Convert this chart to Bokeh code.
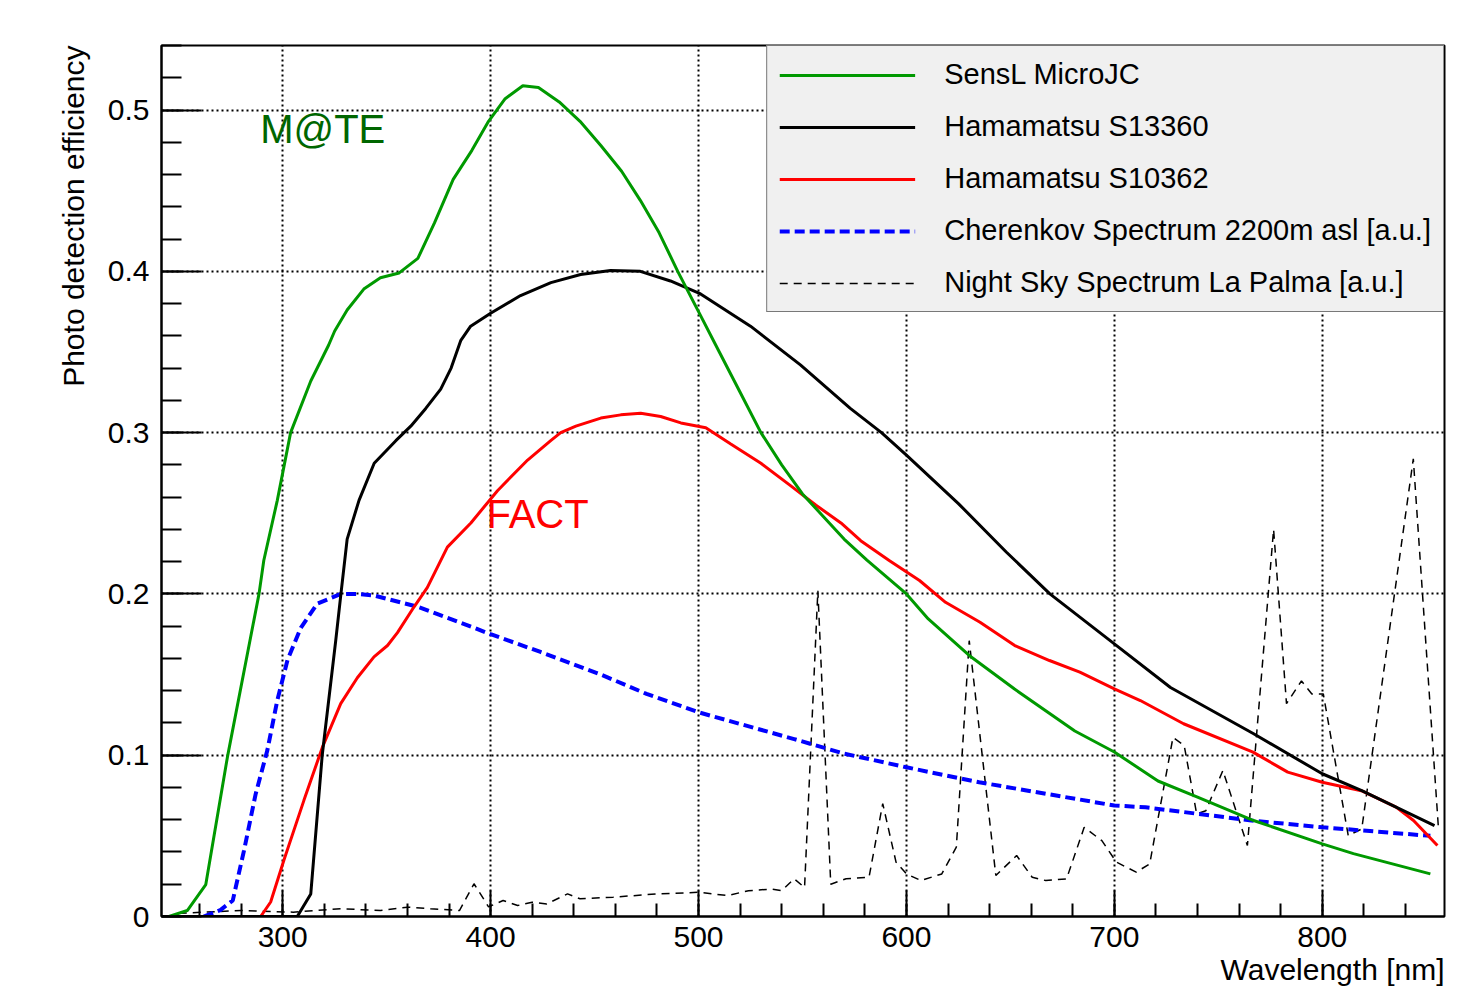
import numpy as np
from bokeh.plotting import figure
from bokeh.models import (Range1d, FixedTicker, CustomJSTickFormatter, Legend,
                          LegendItem, Label, Title)
from bokeh.embed import file_html
from bokeh.resources import INLINE

# ---------------- data ----------------
sensl_wl = [245.3, 254.1, 263, 273.4, 288.6, 290.9, 297.4, 303.8, 313.5, 322, 325, 331, 339,
            347, 356, 365, 373, 382, 391, 399, 407, 415.5, 423, 433, 443, 453, 463, 472, 481,
            490, 500, 510, 520, 530, 540, 550, 560, 570, 581, 600, 610.5, 631, 652, 681, 700,
            721, 740, 767, 800, 815, 852]
sensl_pde = [0.0, 0.0037, 0.0198, 0.0988, 0.200, 0.2207, 0.258, 0.300, 0.332, 0.354, 0.363,
             0.376, 0.389, 0.396, 0.399, 0.408, 0.430, 0.457, 0.475, 0.493, 0.507, 0.515,
             0.514, 0.505, 0.493, 0.478, 0.462, 0.444, 0.424, 0.400, 0.375, 0.350, 0.325,
             0.300, 0.280, 0.262, 0.248, 0.234, 0.221, 0.200, 0.1845, 0.161, 0.141, 0.115,
             0.102, 0.084, 0.074, 0.0595, 0.045, 0.039, 0.0264]

s13360_wl = [242, 307, 313.5, 319, 325.5, 328, 331, 336.7, 344, 354.4, 361.6, 368.8, 376, 381,
             385.6, 390.4, 400, 414.4, 429, 443.3, 457.7, 472, 486.5, 501, 525, 549, 573,
             588, 600, 625, 648, 669, 700, 727, 767, 800, 819, 854]
s13360_pde = [0.0, 0.0, 0.014, 0.100, 0.171, 0.200, 0.234, 0.258, 0.281, 0.295, 0.304, 0.315,
              0.327, 0.340, 0.357, 0.366, 0.374, 0.385, 0.393, 0.398, 0.4005, 0.400, 0.394,
              0.386, 0.366, 0.342, 0.315, 0.300, 0.286, 0.256, 0.226, 0.200, 0.169, 0.142,
              0.1133, 0.0885, 0.078, 0.0564]

s10362_wl = [289.4, 294.2, 300.6, 310.2, 319.1, 327.9, 335.9, 343.9, 350.4, 355.2, 363.2, 369.6,
             379.2, 390.5, 403.3, 417.8, 428.9, 433.7, 441, 453, 462.6, 472.2, 481.8, 491.5,
             503.5, 515.5, 530, 544.4, 556.5, 568.5, 578, 591.7, 606.3, 618.8, 635.4, 652.1,
             668.8, 683.4, 700, 712.5, 733.3, 766.7, 783.4, 800, 818.8, 835.5, 843.9, 855.4]
s10362_pde = [0.0, 0.009, 0.035, 0.072, 0.105, 0.132, 0.148, 0.161, 0.168, 0.176, 0.192, 0.204,
              0.229, 0.244, 0.264, 0.283, 0.295, 0.300, 0.304, 0.309, 0.311, 0.312, 0.310,
              0.306, 0.303, 0.293, 0.281, 0.267, 0.255, 0.244, 0.233, 0.2207, 0.2083, 0.1948,
              0.1824, 0.168, 0.1587, 0.1515, 0.1411, 0.1339, 0.1195, 0.1019, 0.0895, 0.0832,
              0.078, 0.0678, 0.0595, 0.044]

cherenkov_wl = [262, 270, 276, 281.4, 287, 292.6, 297.4, 302.3, 308.7, 316.7, 328, 336, 344,
                365, 392, 400, 424, 453, 475, 500, 546, 570, 600, 635, 700, 715, 766, 800, 852]
cherenkov_au = [0.0, 0.004, 0.010, 0.041, 0.076, 0.103, 0.134, 0.159, 0.179, 0.194, 0.200,
                0.200, 0.199, 0.192, 0.179, 0.175, 0.164, 0.150, 0.138, 0.1266, 0.110, 0.101,
                0.0925, 0.0832, 0.0688, 0.0677, 0.0595, 0.0553, 0.0500]

nsb_wl = [250, 262, 280, 305, 328, 347, 360, 371, 385, 392, 399, 406, 413, 420, 427, 437, 443,
          459, 480, 500, 514, 524, 535, 540, 546, 551, 557.4, 563.6, 571, 582, 588.6, 595,
          600, 607, 617, 624, 630.2, 643, 653, 660.5, 667, 677, 685.5, 694, 701, 710.5, 717,
          728.2, 733.6, 739.6, 744, 752.2, 764, 776.6, 782.8, 790, 795, 800.5, 812.5, 819,
          843.8, 855.8]
nsb_au = [0.002, 0.0027, 0.0037, 0.0027, 0.0048, 0.0037, 0.0058, 0.0048, 0.0037, 0.0203, 0.006,
          0.0099, 0.0068, 0.0089, 0.0078, 0.014, 0.011, 0.012, 0.014, 0.015, 0.013, 0.016,
          0.017, 0.016, 0.0234, 0.018, 0.202, 0.020, 0.0234, 0.0243, 0.070, 0.0337, 0.0264,
          0.0223, 0.0264, 0.043, 0.171, 0.0254, 0.0378, 0.0243, 0.0223, 0.0233, 0.0553,
          0.047, 0.0337, 0.0275, 0.0326, 0.111, 0.106, 0.0636, 0.0656, 0.0905, 0.044, 0.240,
          0.132, 0.146, 0.138, 0.138, 0.0502, 0.0543, 0.2837, 0.0564]

series_labels = ["SensL MicroJC", "Hamamatsu S13360", "Hamamatsu S10362",
                 "Cherenkov Spectrum 2200m asl [a.u.]", "Night Sky Spectrum La Palma [a.u.]"]

x_ticks = [300, 400, 500, 600, 700, 800]
x_minor_ticks = [240, 260, 280, 300, 320, 340, 360, 380, 400, 420, 440, 460, 480, 500, 520,
                 540, 560, 580, 600, 620, 640, 660, 680, 700, 720, 740, 760, 780, 800, 820,
                 840, 860]
y_ticks = [0, 0.1, 0.2, 0.3, 0.4, 0.5]
y_tick_labels = ["0", "0.1", "0.2", "0.3", "0.4", "0.5"]
y_minor_ticks = [0.0, 0.02, 0.04, 0.06, 0.08, 0.1, 0.12, 0.14, 0.16, 0.18, 0.2, 0.22, 0.24,
                 0.26, 0.28, 0.3, 0.32, 0.34, 0.36, 0.38, 0.4, 0.42, 0.44, 0.46, 0.48, 0.5,
                 0.52, 0.54]
x_title = "Wavelength [nm]"
y_title = "Photo detection efficiency"

FONT = "Liberation Sans"

# ---------------- figure ----------------
p = figure(width=1455, height=988, output_backend="svg", toolbar_location=None,
           x_range=Range1d(241.7, 858.8), y_range=Range1d(0, 0.54),
           min_border_left=161, min_border_right=11, min_border_top=45, min_border_bottom=72)
p.background_fill_color = "white"
p.border_fill_color = "white"
p.outline_line_color = "black"
p.outline_line_width = 2

p.xaxis.ticker = FixedTicker(ticks=x_ticks, minor_ticks=x_minor_ticks)
p.yaxis.ticker = FixedTicker(ticks=y_ticks, minor_ticks=y_minor_ticks)
p.yaxis.formatter = CustomJSTickFormatter(
    args=dict(vals=y_ticks, labs=y_tick_labels),
    code="for (let i = 0; i < vals.length; i++) { if (Math.abs(vals[i] - tick) < 1e-9) return labs[i]; } return '';")

for ax in (p.xaxis, p.yaxis):
    ax.axis_line_width = 2
    ax.axis_line_color = "black"
    ax.major_tick_line_width = 2
    ax.minor_tick_line_width = 2
    ax.major_tick_out = 0
    ax.minor_tick_out = 0
    ax.major_label_text_font = FONT
    ax.major_label_text_font_size = "30px"
    ax.major_label_text_color = "black"

p.xaxis.major_tick_in = 26
p.xaxis.minor_tick_in = 13
p.xaxis.major_label_standoff = 10
p.yaxis.major_tick_in = 40
p.yaxis.minor_tick_in = 20
p.yaxis.major_label_standoff = 12

for g in (p.xgrid, p.ygrid):
    g.grid_line_color = "black"
    g.grid_line_dash = "2 3"
    g.grid_line_width = 2
    g.grid_line_alpha = 1.0
p.xgrid.ticker = FixedTicker(ticks=x_ticks)
p.ygrid.ticker = FixedTicker(ticks=y_ticks)

# axis titles, aligned to the axis ends as in the original
p.add_layout(Title(text=x_title, align="right", vertical_align="middle", standoff=4,
                   text_font=FONT, text_font_size="30px", text_font_style="normal",
                   text_color="black"), "below")
p.add_layout(Title(text=y_title, align="right", vertical_align="middle", standoff=28,
                   text_font=FONT, text_font_size="30px", text_font_style="normal",
                   text_color="black"), "left")

# ---------------- curves ----------------
r_nsb = p.line(nsb_wl, nsb_au, line_color="black", line_width=1.5, line_dash="8 6")
r_cher = p.line(cherenkov_wl, cherenkov_au, line_color="#0000ff", line_width=4, line_dash="10 5")
r_s10362 = p.line(s10362_wl, s10362_pde, line_color="#ff0000", line_width=3)
r_s13360 = p.line(s13360_wl, s13360_pde, line_color="black", line_width=3)
r_sensl = p.line(sensl_wl, sensl_pde, line_color="#009900", line_width=3)

legend = Legend(
    items=[LegendItem(label=series_labels[0], renderers=[r_sensl]),
           LegendItem(label=series_labels[1], renderers=[r_s13360]),
           LegendItem(label=series_labels[2], renderers=[r_s10362]),
           LegendItem(label=series_labels[3], renderers=[r_cher]),
           LegendItem(label=series_labels[4], renderers=[r_nsb])],
    location="top_right", margin=0, padding=12, spacing=19,
    glyph_width=136, glyph_height=28, label_height=28, label_standoff=29,
    label_text_font=FONT, label_text_font_size="29px", label_text_color="black",
    background_fill_color="#f0f0f0", background_fill_alpha=1.0,
    border_line_color="black", border_line_width=1.5)
p.add_layout(legend)

# ---------------- texts ----------------
p.add_layout(Label(x=289.2, y=0.488, text="M@TE", text_color="#006600", text_font=FONT,
                   text_font_size="40px", text_baseline="alphabetic"))
p.add_layout(Label(x=398.0, y=0.2497, text="FACT", text_color="#ff0000", text_font=FONT,
                   text_font_size="40px", text_baseline="alphabetic"))

open("out.html", "w").write(file_html(p, INLINE))
